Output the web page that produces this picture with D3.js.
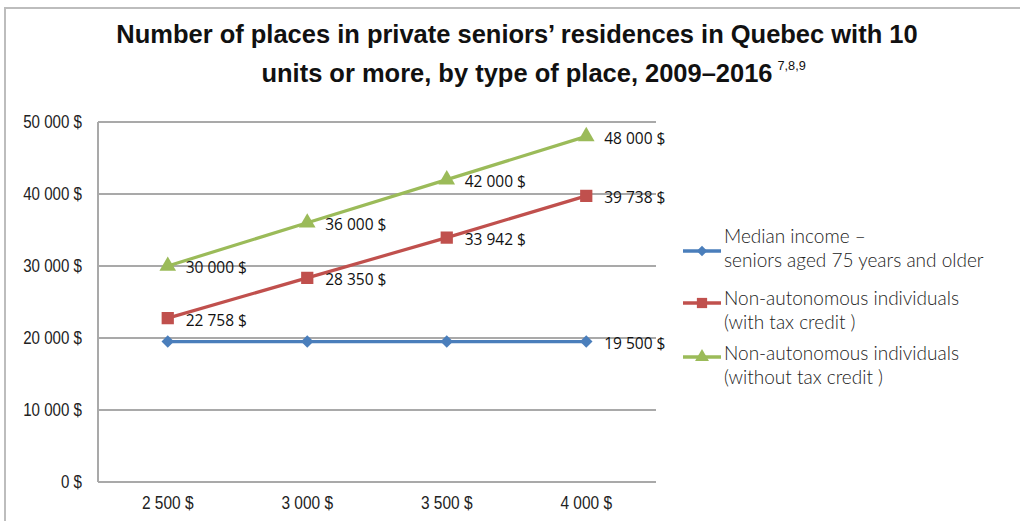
<!DOCTYPE html>
<html>
<head>
<meta charset="utf-8">
<script src="https://cdn.jsdelivr.net/npm/d3@7"></script>
<style>
  body { margin:0; background:#fff; }
  svg { display:block; }
</style>
</head>
<body>
<svg width="1020" height="521"></svg>
<script>
const categories = ['2 500 $','3 000 $','3 500 $','4 000 $']
const medianIncome = [19500,19500,19500,19500]
const withCredit = [22758,28350,33942,39738]
const withoutCredit = [30000,36000,42000,48000]
const yTicks = [0,10000,20000,30000,40000,50000]

const SERIES = [
  {name:['Median income \u2013','seniors aged 75 years and older'], values:medianIncome, color:'#4a7ebb', marker:d3.symbolDiamond2, size:100, labels:[3]},
  {name:['Non-autonomous individuals','(with tax credit )'], values:withCredit, color:'#c0504d', marker:d3.symbolSquare, size:150, labels:[0,1,2,3]},
  {name:['Non-autonomous individuals','(without tax credit )'], values:withoutCredit, color:'#9bbb59', marker:d3.symbolTriangle, size:120, labels:[0,1,2,3]}
]

const fmt = v => d3.format(',')(v).replace(/,/g,' ') + ' $'

const svg = d3.select('svg')

// outer frame
svg.append('path')
   .attr('d','M5,521V8H1020')
   .attr('fill','none')
   .attr('stroke','#bdbdbd')
   .attr('stroke-width',2)

const plotL = 98, plotR = 656, plotT = 122, plotB = 482

const xScale = d3.scalePoint().domain(categories).range([plotL,plotR]).padding(0.5)
const yScale = d3.scaleLinear().domain([0,50000]).range([plotB,plotT])

// title (narrowed a bit, the original uses a condensed face)
const titleG = svg.append('g').attr('transform','translate(517,0) scale(0.98,1)')
const title = titleG.append('text')
   .attr('text-anchor','middle')
   .attr('font-family','Liberation Sans, Arial, sans-serif')
   .attr('font-weight','bold')
   .attr('font-size',26)
   .attr('fill','#111')
title.append('tspan').attr('x',0).attr('y',43).text('Number of places in private seniors\u2019 residences in Quebec with 10')
const t2 = title.append('tspan').attr('x',0).attr('y',82).text('units or more, by type of place, 2009\u20132016')
const t2w = t2.node().getComputedTextLength()
titleG.append('text')
   .attr('x',t2w/2 + 5).attr('y',70)
   .attr('font-family','Liberation Sans, sans-serif')
   .attr('font-size',13)
   .attr('fill','#111')
   .text('7,8,9')

// gridlines
svg.append('g')
   .selectAll('line')
   .data(yTicks)
   .enter()
   .append('line')
   .attr('x1',plotL).attr('x2',plotR)
   .attr('y1',d=>yScale(d)).attr('y2',d=>yScale(d))
   .attr('stroke','#a9a9a9')
   .attr('stroke-width',2)

svg.append('line')
   .attr('x1',plotL).attr('x2',plotL)
   .attr('y1',plotT).attr('y2',plotB)
   .attr('stroke','#a9a9a9')
   .attr('stroke-width',2)

// axis labels
svg.append('g')
   .selectAll('text')
   .data(yTicks)
   .enter()
   .append('text')
   .attr('transform',d=>`translate(82,${yScale(d)}) scale(0.84,1)`)
   .attr('dy','0.35em')
   .attr('text-anchor','end')
   .attr('font-family','Liberation Sans, sans-serif')
   .attr('font-size',18)
   .attr('fill','#222')
   .text(d=>fmt(d))

svg.append('g')
   .selectAll('text')
   .data(categories)
   .enter()
   .append('text')
   .attr('transform',d=>`translate(${xScale(d)},509) scale(0.86,1)`)
   .attr('text-anchor','middle')
   .attr('font-family','Liberation Sans, sans-serif')
   .attr('font-size',18)
   .attr('fill','#222')
   .text(d=>d)

// lines
const line = d3.line().x((v,i)=>xScale(categories[i])).y(v=>yScale(v))

const groups = svg.selectAll('.series')
   .data(SERIES)
   .enter()
   .append('g')
   .classed('series',true)

groups.append('path')
   .attr('d',s=>line(s.values))
   .attr('fill','none')
   .attr('stroke',s=>s.color)
   .attr('stroke-width',3.2)

groups.each(function(s){
  const g = d3.select(this)
  g.selectAll('.mk')
   .data(s.values)
   .enter()
   .append('path')
   .attr('d',d3.symbol().type(s.marker).size(s.size))
   .attr('transform',(v,i)=>`translate(${xScale(categories[i])},${yScale(v)})`)
   .attr('fill',s.color)
  g.selectAll('.lbl')
   .data(s.labels)
   .enter()
   .append('text')
   .attr('x',i=>xScale(categories[i])+18)
   .attr('y',i=>yScale(s.values[i])+2)
   .attr('dy','0.35em')
   .attr('font-family','Open Sans, sans-serif')
   .attr('font-size',15.5)
   .attr('fill','#111')
   .text(i=>fmt(s.values[i]))
})

// legend
const legendMarkY = [251,303,357]
const legendTextY = [243,305,360]
const legend = svg.selectAll('.leg')
   .data(SERIES)
   .enter()
   .append('g')
   .attr('transform','translate(683,0)')

legend.append('line')
   .attr('x1',0).attr('x2',38)
   .attr('y1',(s,i)=>legendMarkY[i]).attr('y2',(s,i)=>legendMarkY[i])
   .attr('stroke',s=>s.color)
   .attr('stroke-width',3.5)
legend.append('path')
   .attr('d',s=>d3.symbol().type(s.marker).size(s.size*0.7)())
   .attr('transform',(s,i)=>`translate(19,${legendMarkY[i]})`)
   .attr('fill',s=>s.color)
legend.append('text')
   .attr('font-family','Lato, sans-serif')
   .attr('font-weight',300)
   .attr('font-size',19)
   .attr('fill','#222')
   .each(function(s,k){
     d3.select(this).selectAll('tspan')
       .data(s.name)
       .enter()
       .append('tspan')
       .attr('x',41)
       .attr('y',(d,i)=> legendTextY[k] + i*23.5)
       .text(d=>d)
   })
</script>
</body>
</html>
